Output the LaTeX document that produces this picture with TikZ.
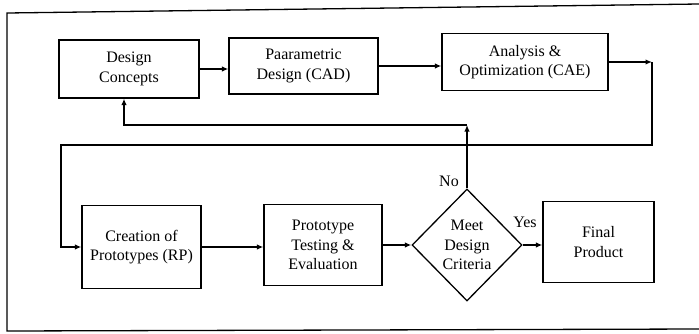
\documentclass[tikz,border=0pt]{standalone}
\usepackage{fontspec}
\setmainfont{Liberation Serif}
\usetikzlibrary{arrows.meta,shapes.geometric}
\begin{document}
\begin{tikzpicture}[x=1pt,y=-1pt,line width=1.3pt,
  font=\fontsize{16}{19.5}\selectfont,
  box/.style={draw,align=center,inner sep=0pt},
  test/.style={draw,diamond,align=center,inner sep=0pt,
    minimum width=110pt,minimum height=112pt},
  link/.style={-{Latex[length=6.5pt,width=5.5pt]}}]
\useasboundingbox (0,0) rectangle (699,333);
\draw (699,4) -- (7,13) -- (7,331) -- (699,329);
% upper row
\node[box,minimum width=140pt,minimum height=58pt] (dc) at (129,69) {Design\\Concepts};
\node[box,minimum width=149pt,minimum height=56pt] (pd) at (303.5,66) {Paarametric\\Design (CAD)};
\node[box,minimum width=166pt,minimum height=57pt] (ao) at (525,62) {Analysis \&\\Optimization (CAE)};
% lower row
\node[box,minimum width=119pt,minimum height=83pt] (cp) at (141.5,247) {Creation of\\Prototypes (RP)};
\node[box,minimum width=118pt,minimum height=81pt] (pt) at (323,245) {Prototype\\Testing \&\\Evaluation};
\node[test] (mc) at (467,245) {Meet\\Design\\Criteria};
\node[box,minimum width=111pt,minimum height=81pt] (fp) at (598.5,242) {Final\\Product};
\coordinate (r1) at (652,62);
\coordinate (l1) at (61,145);
\coordinate (n1) at (467,125);
\draw[link] (dc.east) -- (pd.west |- dc.east);
\draw[link] (pd.east) -- (ao.west |- pd.east);
\draw[link] (ao.east) -- (r1);
\draw[link] (r1) |- (l1) |- (cp.west);
\draw[link] (cp.east) -- (pt.west |- cp.east);
\draw[link] (pt.east |- mc.west) -- (mc.west);
\draw[link] (mc.east) -- (fp.west |- mc.east);
\draw[link] (mc.north) -- (n1);
\draw[link] (n1) -| ([xshift=-5pt]dc.south);
\node (no) at (449,181) {No};
\node (yes) at (525,222) {Yes};
\end{tikzpicture}
\end{document}
